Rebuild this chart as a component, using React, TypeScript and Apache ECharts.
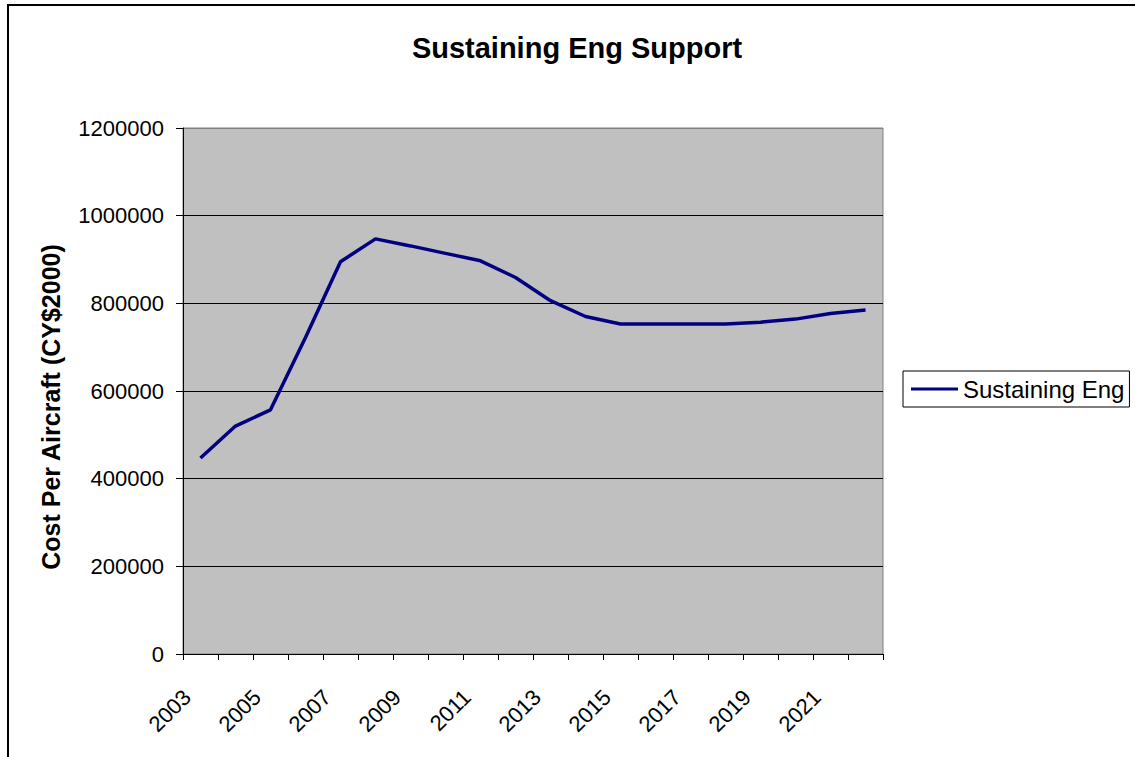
import React, { useEffect, useRef } from "react";
import * as echarts from "echarts";

const years = [
  "2003", "2004", "2005", "2006", "2007", "2008", "2009", "2010", "2011", "2012",
  "2013", "2014", "2015", "2016", "2017", "2018", "2019", "2020", "2021", "2022",
];
const sustainingEng = [
  447000, 520000, 557000, 722000, 895000, 947000, 931000, 914000, 897000, 859000,
  806000, 770000, 753000, 753000, 753000, 753000, 757000, 764000, 777000, 785000,
];
const seriesName = "Sustaining Eng";
const chartTitle = "Sustaining Eng Support";
const yAxisTitle = "Cost Per Aircraft (CY$2000)";

const FONT = "Arial, 'Liberation Sans', sans-serif";

export default function App() {
  const ref = useRef<HTMLDivElement>(null);
  useEffect(() => {
    if (!ref.current) return;
    const chart = echarts.init(ref.current, null, { renderer: "svg" });
    chart.setOption({
      animation: false,
      backgroundColor: "#ffffff",
      graphic: [
        {
          type: "rect",
          shape: { x: 8, y: 5, width: 1300, height: 900 },
          style: { fill: "none", stroke: "#000", lineWidth: 2 },
          silent: true,
          z: -1,
        },
        {
          type: "text",
          x: 577,
          y: 48,
          style: {
            text: chartTitle,
            font: `bold 29px ${FONT}`,
            fill: "#000",
            textAlign: "center",
            textVerticalAlign: "middle",
          },
        },
        {
          type: "text",
          x: 51,
          y: 407,
          rotation: Math.PI / 2,
          style: {
            text: yAxisTitle,
            font: `bold 25px ${FONT}`,
            fill: "#000",
            textAlign: "center",
            textVerticalAlign: "middle",
          },
        },
      ],
      legend: {
        left: 903,
        top: 371,
        orient: "vertical",
        borderColor: "#000",
        borderWidth: 1,
        padding: [6, 5, 6, 8],
        itemWidth: 47,
        itemHeight: 3,
        icon: "rect",
        textStyle: { fontSize: 24, fontFamily: FONT, color: "#000" },
        data: [{ name: seriesName, itemStyle: { color: "#000080" } }],
      },
      grid: {
        left: 183,
        top: 128,
        width: 700,
        height: 526,
        show: true,
        backgroundColor: "#C0C0C0",
        borderColor: "#808080",
        borderWidth: 1,
      },
      xAxis: {
        type: "category",
        data: years,
        boundaryGap: true,
        axisLine: { show: true, lineStyle: { color: "#000", width: 1 } },
        axisTick: { show: true, interval: 0, length: 6, lineStyle: { color: "#000" } },
        axisLabel: {
          interval: 1,
          rotate: 45,
          fontSize: 22,
          fontFamily: FONT,
          color: "#000",
          margin: 26,
          padding: [0, 19, 0, 0],
        },
        splitLine: { show: false },
      },
      yAxis: {
        type: "value",
        min: 0,
        max: 1200000,
        interval: 200000,
        axisLine: { show: true, lineStyle: { color: "#000", width: 1 } },
        axisTick: { show: true, length: 7, lineStyle: { color: "#000" } },
        axisLabel: {
          fontSize: 22,
          fontFamily: FONT,
          color: "#000",
          margin: 19,
          formatter: (v: number) => String(v),
        },
        splitLine: {
          show: true,
          lineStyle: {
            color: ["#000", "#000", "#000", "#000", "#000", "#000", "#808080"],
            width: 1,
          },
        },
      },
      series: [
        {
          name: seriesName,
          type: "line",
          data: sustainingEng,
          symbol: "none",
          lineStyle: { color: "#000080", width: 3.5 },
          itemStyle: { color: "#000080" },
        },
      ],
    });
    return () => chart.dispose();
  }, []);
  return (
    <div
      ref={ref}
      style={{ position: "fixed", left: 0, top: 0, width: 1135, height: 757 }}
    />
  );
}
